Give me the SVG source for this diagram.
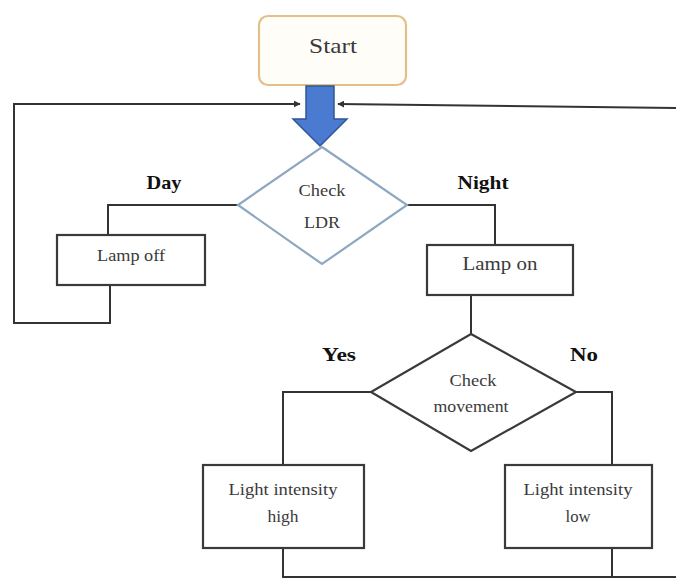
<svg xmlns="http://www.w3.org/2000/svg" width="676" height="580" viewBox="0 0 676 580">
<style>
.box{fill:#fff;stroke:#3a3a3a;stroke-width:2.2}
.ln{fill:none;stroke:#333;stroke-width:2}
.t{font-family:"Liberation Serif",serif;fill:#3a3a3a;text-anchor:middle}
.lb{font-family:"Liberation Serif",serif;fill:#111;font-weight:bold;text-anchor:middle;font-size:19px}
</style>
<defs>
<marker id="ah" viewBox="0 0 10 10" refX="9" refY="5" markerWidth="7" markerHeight="7" orient="auto" markerUnits="userSpaceOnUse">
<path d="M0,0 L10,5 L0,10 z" fill="#333"/>
</marker>
</defs>
<rect width="676" height="580" fill="#fff"/>
<g id="connectors">
<path class="ln" d="M110,285 V323 H14 V104 H300" marker-end="url(#ah)"/>
<path class="ln" d="M676,108 L338,104" marker-end="url(#ah)"/>
<path class="ln" d="M238,205 H108 V235"/>
<path class="ln" d="M406,205 H495 V245"/>
<path class="ln" d="M471,295 V334"/>
<path class="ln" d="M371,392 H283 V465"/>
<path class="ln" d="M576,392 H612 V465"/>
<path class="ln" d="M283,548 V577 H676"/>
<path class="ln" d="M612,548 V577"/>
</g>
<g id="start">
<rect x="259" y="16" width="147" height="69" rx="9" fill="#fffdf8" stroke="#e3c089" stroke-width="2.2"/>
<text class="t" x="333" y="53" font-size="21" textLength="48" lengthAdjust="spacingAndGlyphs">Start</text>
</g>
<g id="arrow">
<path d="M306,86 H334 V119 H347 L320,146 L293,119 H306 Z" fill="#4a7bd0" stroke="#2f5597" stroke-width="1.5"/>
</g>
<g id="check-ldr">
<polygon points="322,147 407,205 322,264 238,205" fill="#fff" stroke="#8ea8c0" stroke-width="2.2"/>
<text class="t" x="322" y="196" font-size="17" fill="#555" textLength="47" lengthAdjust="spacingAndGlyphs">Check</text>
<text class="t" x="322" y="228" font-size="17" fill="#555" textLength="36" lengthAdjust="spacingAndGlyphs">LDR</text>
</g>
<text class="lb" x="164" y="189" textLength="35" lengthAdjust="spacingAndGlyphs">Day</text>
<text class="lb" x="483" y="189" textLength="51" lengthAdjust="spacingAndGlyphs">Night</text>
<g id="lamp-off">
<rect class="box" x="57" y="235" width="148" height="50"/>
<text class="t" x="131" y="261" font-size="17" textLength="68" lengthAdjust="spacingAndGlyphs">Lamp off</text>
</g>
<g id="lamp-on">
<rect class="box" x="427" y="245" width="146" height="50"/>
<text class="t" x="500" y="270" font-size="19" textLength="75" lengthAdjust="spacingAndGlyphs">Lamp on</text>
</g>
<g id="check-movement">
<polygon points="471,334 576,392 471,451 371,392" fill="#fff" stroke="#3a3a3a" stroke-width="2.2"/>
<text class="t" x="473" y="386" font-size="17" fill="#555" textLength="47" lengthAdjust="spacingAndGlyphs">Check</text>
<text class="t" x="471" y="412" font-size="17" fill="#555" textLength="75" lengthAdjust="spacingAndGlyphs">movement</text>
</g>
<text class="lb" x="339" y="361" textLength="34" lengthAdjust="spacingAndGlyphs">Yes</text>
<text class="lb" x="584" y="361" textLength="28" lengthAdjust="spacingAndGlyphs">No</text>
<g id="light-high">
<rect class="box" x="203" y="465" width="161" height="83"/>
<text class="t" x="283" y="495" font-size="17" textLength="109" lengthAdjust="spacingAndGlyphs">Light intensity</text>
<text class="t" x="283" y="522" font-size="17" textLength="31" lengthAdjust="spacingAndGlyphs">high</text>
</g>
<g id="light-low">
<rect class="box" x="505" y="465" width="147" height="83"/>
<text class="t" x="578" y="495" font-size="17" textLength="109" lengthAdjust="spacingAndGlyphs">Light intensity</text>
<text class="t" x="578" y="522" font-size="17" textLength="25" lengthAdjust="spacingAndGlyphs">low</text>
</g>
</svg>
